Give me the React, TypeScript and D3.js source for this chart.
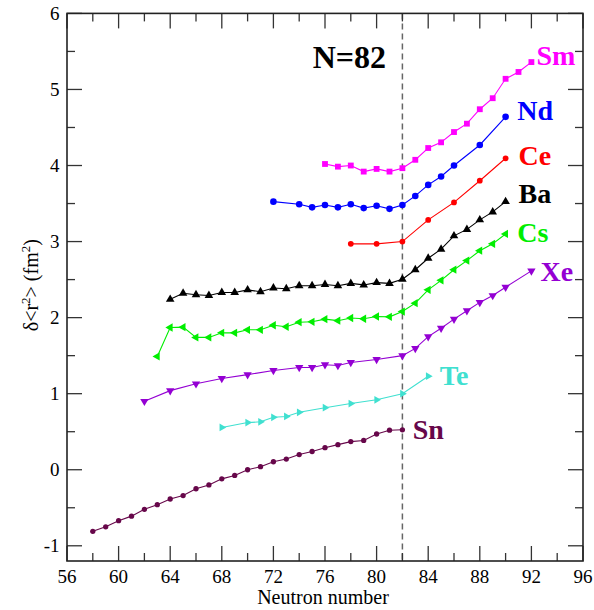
import React from "react";
import * as d3 from "d3";

// ---- data ----
const snN = [58,59,60,61,62,63,64,65,66,67,68,69,70,71,72,73,74,75,76,77,78,79,80,81,82];
const snV = [-0.81,-0.75,-0.67,-0.61,-0.52,-0.46,-0.385,-0.34,-0.25,-0.2,-0.12,-0.075,0.0,0.04,0.105,0.14,0.2,0.24,0.29,0.33,0.37,0.385,0.47,0.52,0.525];

const teN = [68,70,71,72,73,74,76,78,80,82,84];
const teV = [0.556,0.62,0.63,0.69,0.7,0.755,0.815,0.87,0.92,1.0,1.23];

const xeN = [62,64,66,68,70,72,74,75,76,77,78,80,82,83,84,85,86,87,88,89,90,92];
const xeV = [0.9,1.04,1.13,1.2,1.25,1.305,1.345,1.345,1.38,1.37,1.41,1.45,1.5,1.595,1.75,1.86,1.98,2.09,2.2,2.29,2.4,2.615];

const csN = [63,64,65,66,67,68,69,70,71,72,73,74,75,76,77,78,79,80,81,82,83,84,85,86,87,88,89,90];
const csV = [1.49,1.87,1.875,1.74,1.74,1.8,1.8,1.84,1.84,1.9,1.88,1.94,1.945,1.98,1.96,1.995,1.985,2.015,2.01,2.08,2.19,2.365,2.49,2.63,2.75,2.88,2.97,3.1];

const baN = [64,65,66,67,68,69,70,71,72,73,74,75,76,77,78,79,80,81,82,83,84,85,86,87,88,89,90];
const baV = [2.24,2.32,2.3,2.29,2.33,2.33,2.365,2.34,2.39,2.38,2.42,2.42,2.435,2.42,2.45,2.43,2.46,2.45,2.505,2.63,2.78,2.9,3.075,3.16,3.285,3.39,3.525];

const ceN = [78,80,82,84,86,88,90];
const ceV = [2.97,2.97,3.0,3.285,3.515,3.8,4.095];

const ndN = [72,74,75,76,77,78,79,80,81,82,83,84,85,86,88,90];
const ndV = [3.525,3.49,3.45,3.48,3.45,3.49,3.44,3.47,3.43,3.48,3.6,3.745,3.855,4.0,4.27,4.64];

const smN = [76,77,78,79,80,81,82,83,84,85,86,87,88,89,90,91,92];
const smV = [4.02,3.985,4.0,3.92,3.955,3.92,3.965,4.075,4.23,4.305,4.44,4.55,4.74,4.885,5.14,5.23,5.36];

const xTicks = [56,60,64,68,72,76,80,84,88,92,96];
const xMinor = [58,62,66,70,74,78,82,86,90,94];
const yTicks = [-1,0,1,2,3,4,5,6];
const yMinor = [-0.5,0.5,1.5,2.5,3.5,4.5,5.5];

type Marker = "circle" | "square" | "up" | "down" | "left" | "right";
const series: { name: string; n: number[]; v: number[]; color: string; marker: Marker; size: number; lx: number; ly: number }[] = [
  { name: "Sn", n: snN, v: snV, color: "#67074A", marker: "circle", size: 22, lx: 82.8, ly: 0.41 },
  { name: "Te", n: teN, v: teV, color: "#40E0D0", marker: "right", size: 26, lx: 84.9, ly: 1.12 },
  { name: "Xe", n: xeN, v: xeV, color: "#9400D3", marker: "down", size: 30, lx: 92.7, ly: 2.475 },
  { name: "Cs", n: csN, v: csV, color: "#00EE00", marker: "left", size: 30, lx: 90.9, ly: 3.0 },
  { name: "Ba", n: baN, v: baV, color: "#000000", marker: "up", size: 32, lx: 91.0, ly: 3.51 },
  { name: "Ce", n: ceN, v: ceV, color: "#FF0000", marker: "circle", size: 26, lx: 91.0, ly: 4.01 },
  { name: "Nd", n: ndN, v: ndV, color: "#0000FF", marker: "circle", size: 34, lx: 90.9, ly: 4.6 },
  { name: "Sm", n: smN, v: smV, color: "#FF00FF", marker: "square", size: 34, lx: 92.4, ly: 5.32 },
];

const W = 594, H = 610;
const L = 67, R = 583, T = 13.4, B = 561;

export default function App() {
  const x = d3.scaleLinear().domain([56, 96]).range([L, R]);
  const y = d3.scaleLinear().domain([-1.2, 6]).range([B, T]);
  const line = d3.line<[number, number]>().x(d => x(d[0])).y(d => y(d[1]));
  const serif = "'Liberation Serif', 'Times New Roman', serif";

  const symPath = (m: Marker, size: number) => {
    const t = m === "circle" ? d3.symbolCircle : m === "square" ? d3.symbolSquare : d3.symbolTriangle;
    return d3.symbol(t, size)() || "";
  };
  const rot = (m: Marker) => (m === "down" ? 180 : m === "left" ? -90 : m === "right" ? 90 : 0);

  return (
    <svg width={W} height={H} style={{ position: "absolute", left: 0, top: 0, background: "#fff" }} fontFamily={serif}>
      <rect x={0} y={0} width={W} height={H} fill="#fff" />
      {/* dashed N=82 line */}
      <line x1={x(82)} x2={x(82)} y1={T} y2={B} stroke="#666" strokeWidth={1.5} strokeDasharray="6,4" />
      {/* series */}
      {series.map(s => {
        const pts: [number, number][] = s.n.map((n, i) => [n, s.v[i]]);
        const p = symPath(s.marker, s.size);
        return (
          <g key={s.name}>
            <path d={line(pts) || ""} fill="none" stroke={s.color} strokeWidth={1.1} />
            {pts.map((d, i) => (
              <path key={i} d={p} fill={s.color} transform={`translate(${x(d[0])},${y(d[1])}) rotate(${rot(s.marker)})`} />
            ))}
            <text x={x(s.lx)} y={y(s.ly)} fill={s.color} fontSize={28} fontWeight="bold">{s.name}</text>
          </g>
        );
      })}
      <text x={312.7} y={68.3} fontSize={32} fontWeight="bold" fill="#000">N=82</text>
      {/* ticks */}
      <g stroke="#333" strokeWidth={1.3}>
        {xTicks.map(t => (
          <g key={"xt" + t}>
            <line x1={x(t)} x2={x(t)} y1={B} y2={B - 15} />
            <line x1={x(t)} x2={x(t)} y1={T} y2={T + 15} />
          </g>
        ))}
        {xMinor.map(t => (
          <g key={"xm" + t}>
            <line x1={x(t)} x2={x(t)} y1={B} y2={B - 8} />
            <line x1={x(t)} x2={x(t)} y1={T} y2={T + 8} />
          </g>
        ))}
        {yTicks.map(t => (
          <g key={"yt" + t}>
            <line x1={L} x2={L + 15} y1={y(t)} y2={y(t)} />
            <line x1={R} x2={R - 15} y1={y(t)} y2={y(t)} />
          </g>
        ))}
        {yMinor.map(t => (
          <g key={"ym" + t}>
            <line x1={L} x2={L + 8} y1={y(t)} y2={y(t)} />
            <line x1={R} x2={R - 8} y1={y(t)} y2={y(t)} />
          </g>
        ))}
      </g>
      <rect x={L} y={T} width={R - L} height={B - T} fill="none" stroke="#222" strokeWidth={1.6} />
      {/* tick labels */}
      {xTicks.map(t => (
        <text key={"xl" + t} x={x(t)} y={583.3} textAnchor="middle" fontSize={19} fill="#000">{t}</text>
      ))}
      {yTicks.map(t => (
        <text key={"yl" + t} x={59.5} y={y(t)} dy="0.35em" textAnchor="end" fontSize={19} fill="#000">{t}</text>
      ))}
      <text x={(L + R) / 2 - 2} y={604} textAnchor="middle" fontSize={20} fill="#000">Neutron number</text>
      <text transform={`translate(38,${(T + B) / 2 - 2}) rotate(-90)`} textAnchor="middle" fontSize={20} fill="#000">
        δ&lt;r<tspan dy={-8} fontSize={13}>2</tspan><tspan dy={8}>&gt; (fm</tspan><tspan dy={-8} fontSize={13}>2</tspan><tspan dy={8}>)</tspan>
      </text>
    </svg>
  );
}
